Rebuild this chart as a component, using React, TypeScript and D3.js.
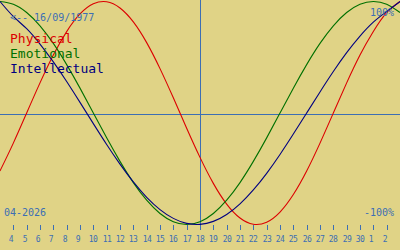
import React from "react";
import * as d3 from "d3";

const W = 400;
const H = 250;

// day offsets relative to today (18/04/2026), -15..15
const dayOffsets = [-15, -14, -13, -12, -11, -10, -9, -8, -7, -6, -5, -4, -3, -2, -1, 0, 1, 2, 3, 4, 5, 6, 7, 8, 9, 10, 11, 12, 13, 14, 15];

const physical = [-0.52, -0.27, 0, 0.27, 0.52, 0.73, 0.888, 0.979, 0.998, 0.942, 0.817, 0.631, 0.398, 0.136, -0.136, -0.398, -0.631, -0.817, -0.942, -0.998, -0.979, -0.888, -0.731, -0.52, -0.27, 0, 0.27, 0.52, 0.731, 0.9, 1.0];
const emotional = [1.0, 0.975, 0.901, 0.782, 0.624, 0.434, 0.223, 0, -0.223, -0.434, -0.624, -0.782, -0.901, -0.975, -1.0, -0.975, -0.901, -0.782, -0.624, -0.434, -0.223, 0, 0.223, 0.434, 0.624, 0.782, 0.901, 0.975, 1.0, 0.975, 0.901];
const intellectual = [1.0, 0.866, 0.756, 0.618, 0.458, 0.282, 0.095, -0.095, -0.282, -0.458, -0.618, -0.756, -0.866, -0.945, -0.99, -0.999, -0.972, -0.91, -0.815, -0.69, -0.541, -0.372, -0.189, 0, 0.189, 0.372, 0.541, 0.69, 0.815, 0.91, 1.0];

const tickLabels = ["4", "5", "6", "7", "8", "9", "10", "11", "12", "13", "14", "15", "16", "17", "18", "19", "20", "21", "22", "23", "24", "25", "26", "27", "28", "29", "30", "1", "2"];
const tickOffsets = [-14, -13, -12, -11, -10, -9, -8, -7, -6, -5, -4, -3, -2, -1, 0, 1, 2, 3, 4, 5, 6, 7, 8, 9, 10, 11, 12, 13, 14];

const seriesNames = ["Physical", "Emotional", "Intellectual"];
const seriesColors = ["#dc0000", "#007000", "#000080"];
const birthLabel = "<-- 16/09/1977";
const monthLabel = "04-2026";

const BG = "#e0d386";
const AXIS = "#3c6eb4";
const MONO = "'DejaVu Sans Mono', 'Liberation Mono', monospace";

export default function App() {
  const x = d3.scaleLinear().domain([-15, 15]).range([0, W]);
  const y = d3.scaleLinear().domain([-1, 1]).range([224.5, 1.5]);
  const line = d3
    .line<number>()
    .x((_, i) => x(dayOffsets[i]))
    .y((v) => y(v))
    .curve(d3.curveNatural);
  const series = [physical, emotional, intellectual];

  return (
    <svg
      width={W}
      height={H}
      style={{ position: "fixed", left: 0, top: 0, display: "block" }}
    >
      <rect x={0} y={0} width={W} height={H} fill={BG} />
      <line x1={0} x2={W} y1={114.5} y2={114.5} stroke={AXIS} strokeWidth={1} shapeRendering="crispEdges" />
      <line x1={x(0) + 0.5} x2={x(0) + 0.5} y1={0} y2={230} stroke={AXIS} strokeWidth={1} shapeRendering="crispEdges" />
      {tickOffsets.map((d, i) => {
        const tx = Math.round(x(d)) + 0.5;
        return (
          <g key={i}>
            <line x1={tx} x2={tx} y1={225} y2={230} stroke={AXIS} strokeWidth={1} shapeRendering="crispEdges" />
            <text x={tx - 4.8} y={241.5} fill={AXIS} fontFamily={MONO} fontSize={8} letterSpacing={-0.4}>
              {tickLabels[i]}
            </text>
          </g>
        );
      })}
      {series.map((s, i) => (
        <path key={i} d={line(s) || ""} fill="none" stroke={seriesColors[i]} strokeWidth={1.1} />
      ))}
      <text x={10} y={20.5} fill={AXIS} fontFamily={MONO} fontSize={10}>
        {birthLabel}
      </text>
      {seriesNames.map((n, i) => (
        <text key={n} x={10} y={42.5 + i * 15} fill={seriesColors[i]} fontFamily={MONO} fontSize={13}>
          {n}
        </text>
      ))}
      <text x={394} y={16} textAnchor="end" fill={AXIS} fontFamily={MONO} fontSize={10}>
        100%
      </text>
      <text x={394} y={216} textAnchor="end" fill={AXIS} fontFamily={MONO} fontSize={10}>
        -100%
      </text>
      <text x={4} y={216} fill={AXIS} fontFamily={MONO} fontSize={10}>
        {monthLabel}
      </text>
    </svg>
  );
}
